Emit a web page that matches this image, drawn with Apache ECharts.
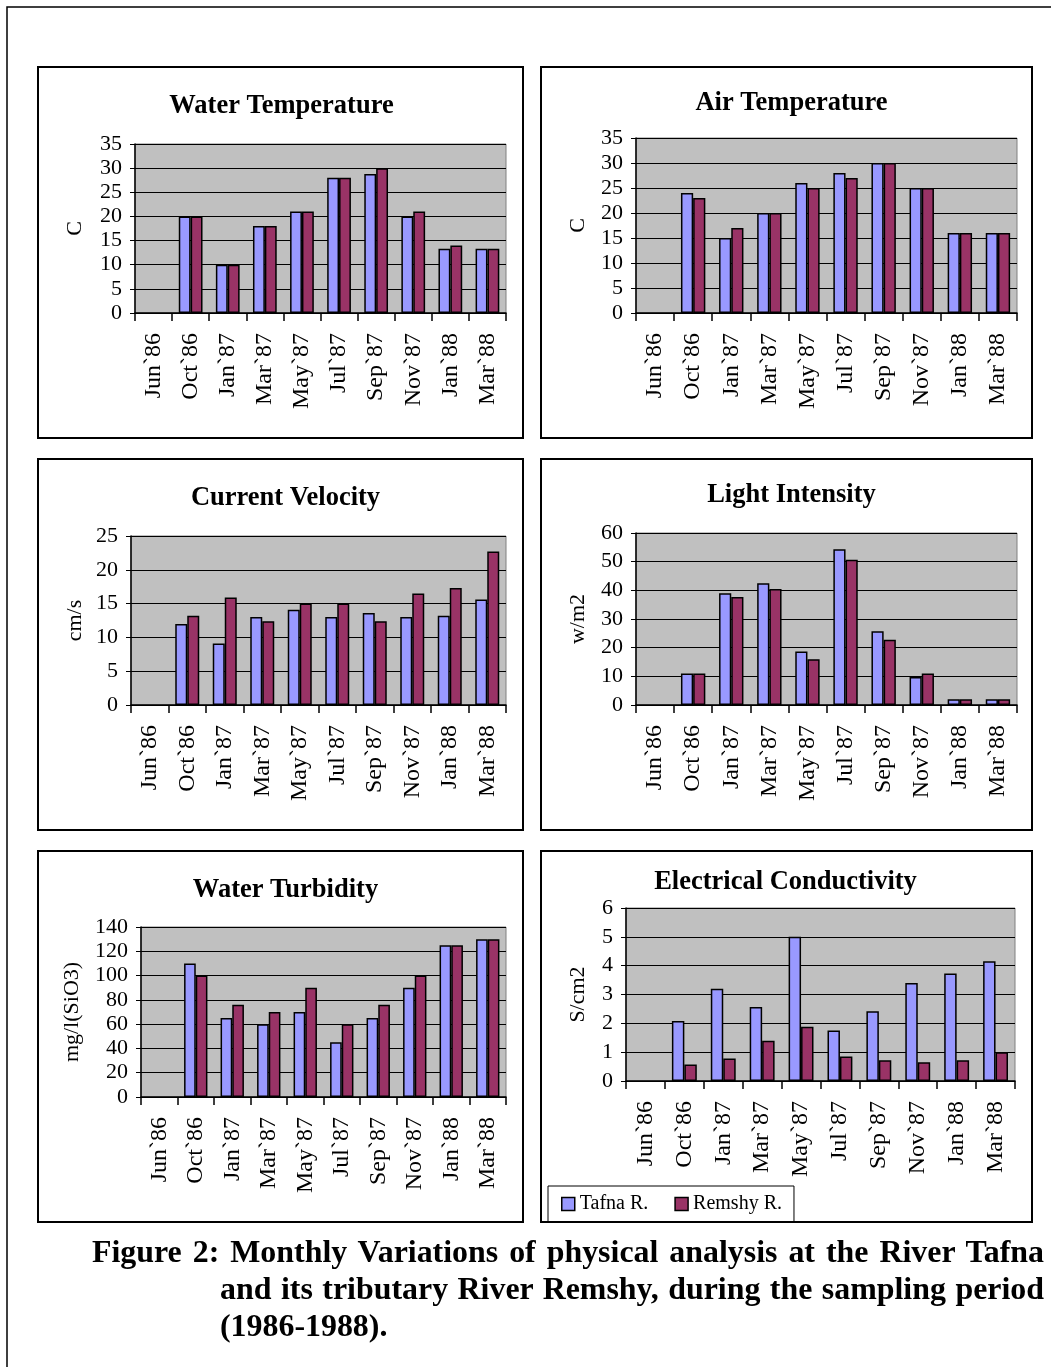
<!DOCTYPE html>
<html>
<head>
<meta charset="utf-8">
<script src="https://cdn.jsdelivr.net/npm/echarts@6/dist/echarts.min.js"></script>
<style>
  html, body { margin: 0; padding: 0; background: #fff; }
  #chart { width: 1051px; height: 1367px; position: absolute; left: 0; top: 0; }
  #caption {
    position: absolute; left: 92px; top: 1233px; width: 952px;
    font-family: "Liberation Serif", "DejaVu Serif", serif; font-weight: bold;
    font-size: 29px; line-height: 37px; color: #000;
  }
  #caption div { text-align: justify; text-align-last: justify; white-space: nowrap; }
  #caption div.in { padding-left: 128px; }
  #caption div.last { text-align-last: left; }
</style>
</head>
<body>
<div id="chart"></div>
<div id="caption">
  <div id="capLine1">Figure 2: Monthly Variations of physical analysis at the River Tafna</div>
  <div class="in">and its tributary River Remshy, during the sampling period</div>
  <div class="in last">(1986-1988).</div>
</div>
<script>
var months = ['Jun`86', 'Oct`86', 'Jan`87', 'Mar`87', 'May`87', 'Jul`87', 'Sep`87', 'Nov`87', 'Jan`88', 'Mar`88'];

var waterTempTafna  = [null, 20, 10, 18, 21, 28, 28.8, 20, 13.3, 13.3];
var waterTempRemshy = [null, 20, 10, 18, 21, 28, 30, 21, 14, 13.3];
var airTempTafna    = [null, 24, 15, 20, 26, 28, 30, 25, 16, 16];
var airTempRemshy   = [null, 23, 17, 20, 25, 27, 30, 25, 16, 16];
var velocityTafna   = [null, 12, 9.1, 13, 14.1, 13, 13.6, 13, 13.2, 15.6];
var velocityRemshy  = [null, 13.2, 15.9, 12.4, 15, 15, 12.4, 16.5, 17.3, 22.7];
var lightTafna      = [null, 11, 39, 42.5, 18.7, 54.3, 25.7, 9.8, 2, 2];
var lightRemshy     = [null, 11, 37.7, 40.5, 16, 50.7, 22.8, 11, 2, 2];
var turbidityTafna  = [null, 110, 65, 60, 70, 45, 65, 90, 125, 130];
var turbidityRemshy = [null, 100, 76, 70, 90, 60, 76, 100, 125, 130];
var conductTafna    = [null, 2.08, 3.2, 2.57, 5, 1.75, 2.42, 3.4, 3.73, 4.15];
var conductRemshy   = [null, 0.57, 0.78, 1.4, 1.88, 0.85, 0.72, 0.65, 0.72, 1];

var serif = '"Liberation Serif", "DejaVu Serif", serif';

// caption: pick a font size so the first line only needs a little justifying
(function () {
  var ctx = document.createElement('canvas').getContext('2d');
  ctx.font = 'bold 29px ' + serif;
  var w = ctx.measureText(document.getElementById('capLine1').textContent).width;
  var size = Math.min(32, 29 * 925 / w);
  document.getElementById('caption').style.fontSize = size.toFixed(1) + 'px';
})();

// panel box, plot area, title, axis
var panels = [
  { box: [38, 67, 485, 371], grid: [135, 144, 371, 169], title: 'Water Temperature', ty: 88, name: 'C', gap: 49, max: 35, step: 5, a: waterTempTafna, b: waterTempRemshy },
  { box: [541, 67, 491, 371], grid: [636, 138, 381, 175], title: 'Air Temperature', ty: 85, name: 'C', gap: 47, max: 35, step: 5, a: airTempTafna, b: airTempRemshy },
  { box: [38, 459, 485, 371], grid: [131, 536, 375, 169], title: 'Current Velocity', ty: 480, name: 'cm/s', gap: 45, max: 25, step: 5, a: velocityTafna, b: velocityRemshy },
  { box: [541, 459, 491, 371], grid: [636, 533, 381, 172], title: 'Light Intensity', ty: 477, name: 'w/m2', gap: 47, max: 60, step: 10, a: lightTafna, b: lightRemshy },
  { box: [38, 851, 485, 371], grid: [141, 927, 365, 170], title: 'Water Turbidity', ty: 872, name: 'mg/l(SiO3)', gap: 58, max: 140, step: 20, a: turbidityTafna, b: turbidityRemshy },
  { box: [541, 851, 491, 371], grid: [626, 908, 389, 173], title: 'Electrical Conductivity', ty: 864, name: 'S/cm2', gap: 37, max: 6, step: 1, a: conductTafna, b: conductRemshy }
];

var option = {
  animation: false,
  backgroundColor: '#fff',
  textStyle: { fontFamily: serif, color: '#000' },
  title: [], grid: [], xAxis: [], yAxis: [], series: [],
  graphic: [
    { type: 'rect', shape: { x: 7, y: 7, width: 1080, height: 1400 }, style: { fill: 'none', stroke: '#000', lineWidth: 1.5 }, silent: true }
  ],
  legend: {
    data: ['Tafna R.', 'Remshy R.'],
    left: 548, top: 1186,
    padding: [8, 12, 8, 13],
    borderColor: '#000', borderWidth: 1,
    icon: 'rect',
    itemWidth: 13, itemHeight: 13, itemGap: 26,
    itemStyle: { borderColor: '#000', borderWidth: 1.5 },
    textStyle: { fontFamily: serif, fontSize: 20, color: '#000' }
  }
};

panels.forEach(function (p, i) {
  option.graphic.push({
    type: 'rect', silent: true,
    shape: { x: p.box[0], y: p.box[1], width: p.box[2], height: p.box[3] },
    style: { fill: 'none', stroke: '#000', lineWidth: 2 }
  });
  option.title.push({
    text: p.title, left: p.box[0] + p.box[2] / 2 + (i === 5 ? -6 : 0) - (i === 0 ? 4 : 0), top: p.ty,
    textAlign: 'center',
    textStyle: { fontFamily: serif, fontWeight: 'bold', fontSize: 26.5, color: '#000' }
  });
  option.grid.push({
    left: p.grid[0], top: p.grid[1], width: p.grid[2], height: p.grid[3],
    show: true, backgroundColor: '#C0C0C0', borderColor: '#808080', borderWidth: 1,
    containLabel: false
  });
  option.xAxis.push({
    type: 'category', gridIndex: i, data: months,
    axisLine: { lineStyle: { color: '#000', width: 1.5 } },
    axisTick: { show: true, inside: false, length: 8, lineStyle: { color: '#000', width: 1.5 } },
    axisLabel: { rotate: 90, margin: 20, fontFamily: serif, fontSize: 24, color: '#000', interval: 0 },
    splitLine: { show: false }
  });
  option.yAxis.push({
    type: 'value', gridIndex: i, min: 0, max: p.max, interval: p.step,
    name: p.name, nameLocation: 'middle', nameGap: p.gap, nameRotate: 90,
    nameTextStyle: { fontFamily: serif, fontSize: 22, color: '#000' },
    axisLine: { show: true, lineStyle: { color: '#000', width: 1.5 } },
    axisTick: { show: true, length: 5, lineStyle: { color: '#000' } },
    axisLabel: { margin: 13, fontFamily: serif, fontSize: 22, color: '#000' },
    splitLine: { show: true, lineStyle: { color: '#000', width: 1 } }
  });
  option.series.push({
    name: 'Tafna R.', type: 'bar', xAxisIndex: i, yAxisIndex: i, data: p.a,
    barGap: '0%', barCategoryGap: '36%',
    itemStyle: { color: '#9999FF', borderColor: '#000', borderWidth: 1.5 }
  });
  option.series.push({
    name: 'Remshy R.', type: 'bar', xAxisIndex: i, yAxisIndex: i, data: p.b,
    barGap: '0%', barCategoryGap: '36%',
    itemStyle: { color: '#993366', borderColor: '#000', borderWidth: 1.5 }
  });
});

var chart = echarts.init(document.getElementById('chart'));
chart.setOption(option);
</script>
</body>
</html>
